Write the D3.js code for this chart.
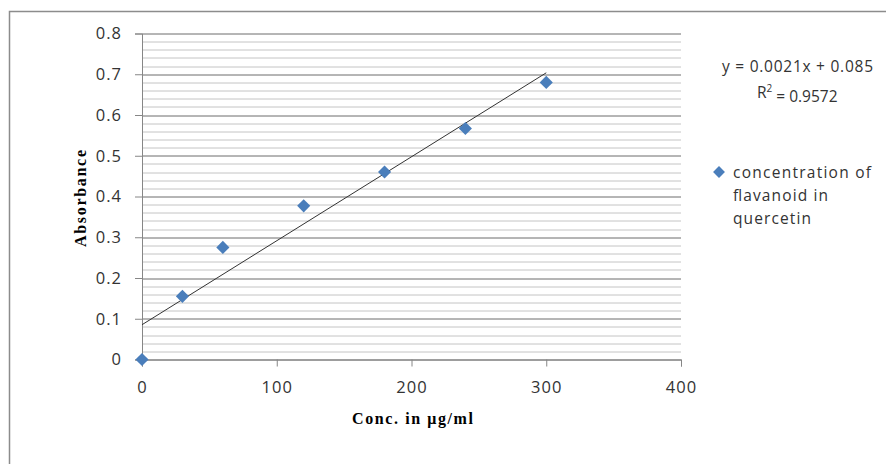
<!DOCTYPE html>
<html>
<head>
<meta charset="utf-8">
<script src="https://cdn.jsdelivr.net/npm/d3@7"></script>
<style>
  body { margin: 0; background: #fff; }
</style>
</head>
<body>
<div id="chart"></div>
<script>
// data
var concValues = [0, 30, 60, 120, 180, 240, 300];
var absValues = [0, 0.155, 0.275, 0.377, 0.46, 0.567, 0.68];
var xTicks = [0, 100, 200, 300, 400];
var yTicks = [0, 0.1, 0.2, 0.3, 0.4, 0.5, 0.6, 0.7, 0.8];
var seriesName = ["concentration of", "flavanoid in", "quercetin"];
var equationText = "y = 0.0021x + 0.085";
var r2Value = "0.9572";

var svgWidth = 886, svgHeight = 464;
var margin = { top: 33.5, right: 205, bottom: 104.5, left: 142 };
var width = svgWidth - margin.left - margin.right;
var height = svgHeight - margin.top - margin.bottom;

var svg = d3.select("#chart")
  .append("svg")
  .attr("width", svgWidth)
  .attr("height", svgHeight);

// outer chart border
svg.append("rect")
  .attr("x", 9.5).attr("y", 11.5)
  .attr("width", 900).attr("height", 500)
  .attr("fill", "none")
  .attr("stroke", "#8c8c8c")
  .attr("stroke-width", 1.5);

var chartGroup = svg.append("g")
  .attr("transform", `translate(${margin.left}, ${margin.top})`);

var xScale = d3.scaleLinear().domain([0, 400]).range([0, width]);
var yScale = d3.scaleLinear().domain([0, 0.8]).range([height, 0]);

// minor gridlines every 0.02
var minor = d3.range(0, 0.8001, 0.02);
chartGroup.append("g")
  .selectAll("line")
  .data(minor)
  .enter()
  .append("line")
  .attr("x1", 0).attr("x2", width)
  .attr("y1", d => Math.round(yScale(d)) + 0.5)
  .attr("y2", d => Math.round(yScale(d)) + 0.5)
  .attr("stroke", "#c4c4c4");

// major gridlines
chartGroup.append("g")
  .selectAll("line")
  .data(yTicks)
  .enter()
  .append("line")
  .attr("x1", 0).attr("x2", width)
  .attr("y1", d => Math.round(yScale(d)) + 0.5)
  .attr("y2", d => Math.round(yScale(d)) + 0.5)
  .attr("stroke", "#8a8a8a");

// axes
var leftAxis = d3.axisLeft(yScale).tickValues(yTicks).tickSize(7).tickPadding(13)
  .tickFormat(d => d === 0 ? "0" : d3.format(".1f")(d));
var bottomAxis = d3.axisBottom(xScale).tickValues(xTicks).tickSize(7).tickPadding(12)
  .tickFormat(d3.format("d"));

var yAxisG = chartGroup.append("g").call(leftAxis);
var xAxisG = chartGroup.append("g")
  .attr("transform", `translate(0, ${height})`)
  .call(bottomAxis);

[yAxisG, xAxisG].forEach(function (g) {
  g.select(".domain").attr("stroke", "#868686");
  g.selectAll(".tick line").attr("stroke", "#868686");
  g.selectAll(".tick text")
    .style("font-family", "'Open Sans', 'DejaVu Sans', sans-serif")
    .style("font-size", "16.5px")
    .style("letter-spacing", "1px")
    .style("fill", "#333");
});
xAxisG.selectAll(".tick text").attr("dy", "0.85em");

// trendline from least squares
var mx = d3.mean(concValues), my = d3.mean(absValues);
var sxy = d3.sum(concValues, (x, i) => (x - mx) * (absValues[i] - my));
var sxx = d3.sum(concValues, x => (x - mx) * (x - mx));
var slope = sxy / sxx;
var intercept = my - slope * mx;
var xEnds = [0, d3.max(concValues)];

chartGroup.append("line")
  .attr("x1", xScale(xEnds[0])).attr("y1", yScale(intercept + slope * xEnds[0]))
  .attr("x2", xScale(xEnds[1])).attr("y2", yScale(intercept + slope * xEnds[1]))
  .attr("stroke", "#333")
  .attr("stroke-width", 1);

// markers
var diamond = d3.symbol().type(d3.symbolDiamond2).size(110);
chartGroup.selectAll("path.pt")
  .data(concValues)
  .enter()
  .append("path")
  .attr("class", "pt")
  .attr("d", diamond)
  .attr("transform", (d, i) => `translate(${xScale(d)}, ${yScale(absValues[i])})`)
  .attr("fill", "#4a7ebb");

// axis titles
chartGroup.append("text")
  .attr("transform", "rotate(-90)")
  .attr("x", -(198.5 - margin.top))
  .attr("y", 80 - margin.left)
  .attr("dy", "0.35em")
  .attr("text-anchor", "middle")
  .attr("font-family", "Liberation Serif, serif")
  .attr("font-weight", "bold")
  .attr("font-size", "16px")
  .attr("textLength", 97)
  .attr("lengthAdjust", "spacing")
  .attr("fill", "#000")
  .text("Absorbance");

chartGroup.append("text")
  .attr("x", 412.5 - margin.left)
  .attr("y", 418 - margin.top)
  .attr("dy", "0.35em")
  .attr("text-anchor", "middle")
  .attr("font-family", "Liberation Serif, serif")
  .attr("font-weight", "bold")
  .attr("font-size", "16px")
  .attr("textLength", 121)
  .attr("lengthAdjust", "spacing")
  .attr("fill", "#000")
  .text("Conc. in μg/ml");

// equation label
var eq = svg.append("g")
  .attr("font-family", "Open Sans, DejaVu Sans, sans-serif")
  .attr("font-size", "15.5px")
  .attr("fill", "#333");
eq.append("text").attr("x", 722).attr("y", 67).attr("dy", "0.35em")
  .attr("textLength", 151).attr("lengthAdjust", "spacing")
  .text(equationText);
var r2 = eq.append("text").attr("x", 757).attr("y", 93).attr("dy", "0.35em");
r2.append("tspan").text("R");
r2.append("tspan").attr("font-size", "10px").attr("dy", "-0.6em").text("2");
r2.append("tspan").attr("dy", "0.6em").attr("dx", "4").text("= " + r2Value);

// legend
var legendWidths = [138, 95, 78];
var legend = svg.append("g")
  .attr("font-family", "Open Sans, DejaVu Sans, sans-serif")
  .attr("font-size", "15.5px")
  .attr("fill", "#333");
legend.append("path")
  .attr("d", d3.symbol().type(d3.symbolDiamond2).size(90))
  .attr("transform", "translate(719, 172)")
  .attr("fill", "#4a7ebb");
legend.selectAll("text")
  .data(seriesName)
  .enter()
  .append("text")
  .attr("x", 733)
  .attr("y", (d, i) => 173 + i * 23)
  .attr("dy", "0.35em")
  .attr("textLength", (d, i) => legendWidths[i])
  .attr("lengthAdjust", "spacing")
  .text(d => d);
</script>
</body>
</html>
